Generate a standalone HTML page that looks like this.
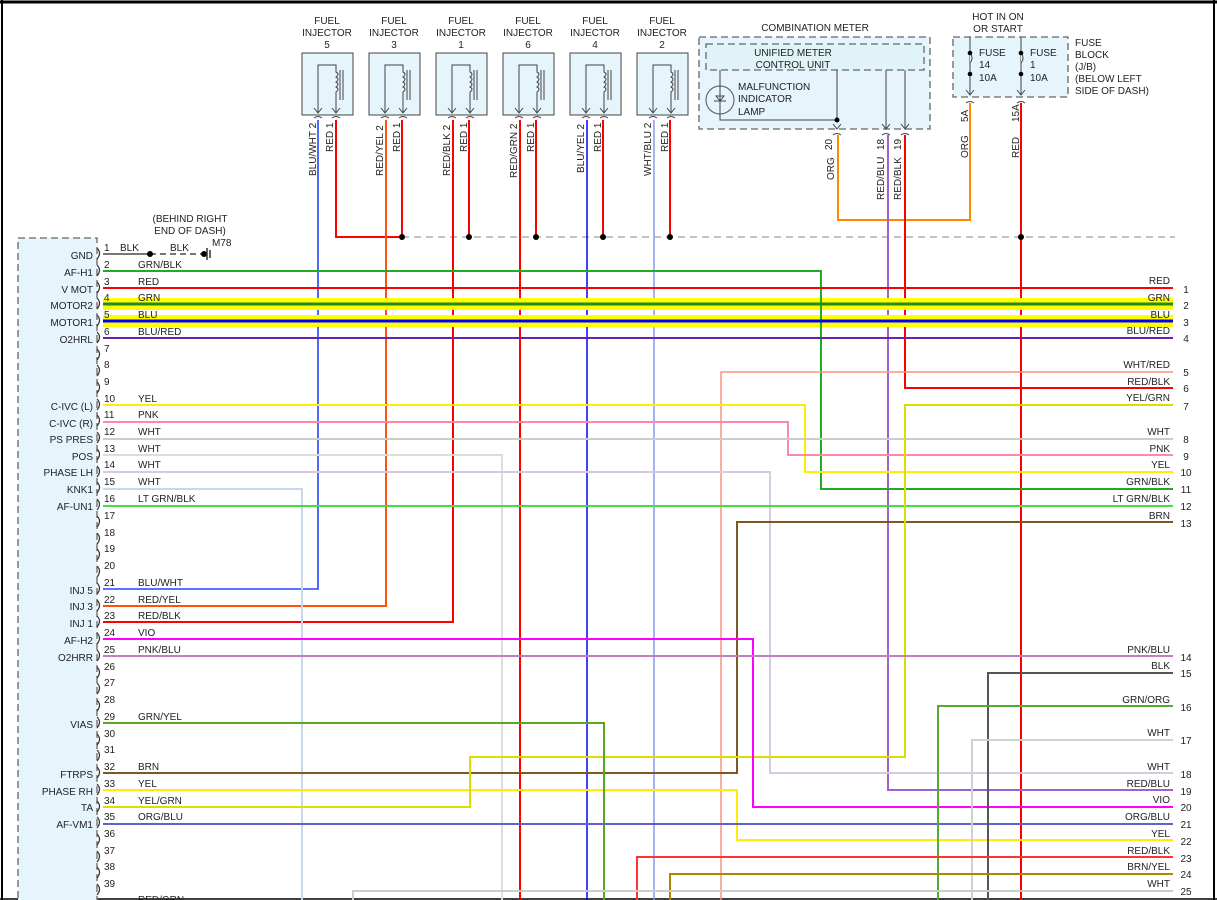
<!DOCTYPE html>
<html><head><meta charset="utf-8"><style>
html,body{margin:0;padding:0;background:#fff}
svg{display:block}
text{font-family:"Liberation Sans",Arial,sans-serif;font-size:10px;fill:#222}
.r{text-anchor:end}.m{text-anchor:middle}
.dash{fill:#e6f4fb;stroke:#666;stroke-dasharray:7 4;stroke-width:1.3}
</style></head><body>
<svg width="1217" height="900" viewBox="0 0 1217 900" xmlns="http://www.w3.org/2000/svg">
<rect width="1217" height="900" fill="#fff"/>
<line x1="0" y1="2" x2="1217" y2="2" stroke="#000" stroke-width="3"/>
<line x1="2" y1="0" x2="2" y2="900" stroke="#000" stroke-width="2"/>
<line x1="1214" y1="0" x2="1214" y2="900" stroke="#000" stroke-width="2"/>
<line x1="0" y1="899" x2="1217" y2="899" stroke="#000" stroke-width="1.5"/>

<rect x="18" y="238" width="79" height="680" class="dash"/>

<g fill="none" stroke="#444" stroke-width="1">
<rect x="302" y="53" width="51" height="62" fill="#e6f4fb"/>
<rect x="369" y="53" width="51" height="62" fill="#e6f4fb"/>
<rect x="436" y="53" width="51" height="62" fill="#e6f4fb"/>
<rect x="503" y="53" width="51" height="62" fill="#e6f4fb"/>
<rect x="570" y="53" width="51" height="62" fill="#e6f4fb"/>
<rect x="637" y="53" width="51" height="62" fill="#e6f4fb"/>
</g>
<g fill="none" stroke="#444" stroke-width="1">
<path id="inj" d="M318 113 V65 H336 V72 q4 2 0 5 q4 2 0 5 q4 2 0 5 q4 2 0 5 V113 M340 70 V100 M343 70 V100 M314 108 l4 5 l4 -5 M332 108 l4 5 l4 -5 M314 118 q4 -3 8 0 M332 118 q4 -3 8 0"/>
<use href="#inj" x="67"/><use href="#inj" x="134"/><use href="#inj" x="201"/><use href="#inj" x="268"/><use href="#inj" x="335"/>
</g>
<g class="m">
<text x="327" y="24" class="m">FUEL</text><text x="327" y="36" class="m">INJECTOR</text><text x="327" y="48" class="m">5</text>
<text x="394" y="24" class="m">FUEL</text><text x="394" y="36" class="m">INJECTOR</text><text x="394" y="48" class="m">3</text>
<text x="461" y="24" class="m">FUEL</text><text x="461" y="36" class="m">INJECTOR</text><text x="461" y="48" class="m">1</text>
<text x="528" y="24" class="m">FUEL</text><text x="528" y="36" class="m">INJECTOR</text><text x="528" y="48" class="m">6</text>
<text x="595" y="24" class="m">FUEL</text><text x="595" y="36" class="m">INJECTOR</text><text x="595" y="48" class="m">4</text>
<text x="662" y="24" class="m">FUEL</text><text x="662" y="36" class="m">INJECTOR</text><text x="662" y="48" class="m">2</text>
</g>
<g>
<text transform="translate(316,176) rotate(-90)">BLU/WHT 2</text><text transform="translate(333,152) rotate(-90)">RED 1</text>
<text transform="translate(383,176) rotate(-90)">RED/YEL 2</text><text transform="translate(400,152) rotate(-90)">RED 1</text>
<text transform="translate(450,176) rotate(-90)">RED/BLK 2</text><text transform="translate(467,152) rotate(-90)">RED 1</text>
<text transform="translate(517,178) rotate(-90)">RED/GRN 2</text><text transform="translate(534,152) rotate(-90)">RED 1</text>
<text transform="translate(584,173) rotate(-90)">BLU/YEL 2</text><text transform="translate(601,152) rotate(-90)">RED 1</text>
<text transform="translate(651,176) rotate(-90)">WHT/BLU 2</text><text transform="translate(668,152) rotate(-90)">RED 1</text>
</g>

<text x="815" y="31" class="m">COMBINATION METER</text>
<rect x="699" y="37" width="231" height="92" class="dash"/>
<rect x="706" y="44" width="218" height="26" fill="#e0f4f8" stroke="#666" stroke-dasharray="7 4" stroke-width="1.3"/>
<text x="793" y="56" class="m">UNIFIED METER</text><text x="793" y="68" class="m">CONTROL UNIT</text>
<text x="738" y="90">MALFUNCTION</text><text x="738" y="102">INDICATOR</text><text x="738" y="115">LAMP</text>
<circle cx="720" cy="100" r="14" fill="none" stroke="#555"/>
<path d="M720 70 V120 H837 V70 M886 70 V128 M905 70 V128 M714 101 h12 M716 96 l4 5 l4-5z" fill="none" stroke="#444"/>
<circle cx="837" cy="120" r="2.5" fill="#000"/>
<path d="M833 124 l4 5 l4-5 M882 124 l4 5 l4-5 M901 124 l4 5 l4-5 M833 135 q4-3 8 0 M882 135 q4-3 8 0 M901 135 q4-3 8 0" fill="none" stroke="#444"/>
<text transform="translate(832,150) rotate(-90)">20</text>
<text transform="translate(834,180) rotate(-90)">ORG</text>
<text transform="translate(884,150) rotate(-90)">18</text>
<text transform="translate(884,200) rotate(-90)">RED/BLU</text>
<text transform="translate(901,150) rotate(-90)">19</text>
<text transform="translate(901,200) rotate(-90)">RED/BLK</text>

<text x="998" y="20" class="m">HOT IN ON</text><text x="998" y="32" class="m">OR START</text>
<rect x="953" y="37" width="115" height="60" class="dash"/>
<path d="M970 37 V95 M1021 37 V95 M966 90 l4 5 l4-5 M1017 90 l4 5 l4-5 M966 103 q4-3 8 0 M1017 103 q4-3 8 0" fill="none" stroke="#444"/>
<path d="M970 53 q4 5 0 10 M1021 53 q4 5 0 10" fill="#e6f4fb" stroke="#444"/>
<circle cx="970" cy="53" r="2.3" fill="#000"/><circle cx="970" cy="74" r="2.3" fill="#000"/>
<circle cx="1021" cy="53" r="2.3" fill="#000"/><circle cx="1021" cy="74" r="2.3" fill="#000"/>
<text x="979" y="56">FUSE</text><text x="979" y="68">14</text><text x="979" y="81">10A</text>
<text x="1030" y="56">FUSE</text><text x="1030" y="68">1</text><text x="1030" y="81">10A</text>
<text x="1075" y="46">FUSE</text><text x="1075" y="58">BLOCK</text><text x="1075" y="70">(J/B)</text><text x="1075" y="82">(BELOW LEFT</text><text x="1075" y="94">SIDE OF DASH)</text>
<text transform="translate(968,122) rotate(-90)">5A</text>
<text transform="translate(968,158) rotate(-90)">ORG</text>
<text transform="translate(1019,122) rotate(-90)">15A</text>
<text transform="translate(1019,158) rotate(-90)">RED</text>

<text x="190" y="222" class="m">(BEHIND RIGHT</text><text x="190" y="234" class="m">END OF DASH)</text>
<text x="212" y="246">M78</text>

<line x1="402" y1="237" x2="1175" y2="237" stroke="#888" stroke-dasharray="7 5"/>

<g fill="none" stroke-width="2">
<path d="M336 120 V237 H402" stroke="#f00"/>
<path d="M402 120 V237 M469 120 V237 M536 120 V237 M603 120 V237 M670 120 V237" stroke="#f00"/>
<path d="M1021 103 V900" stroke="#f00"/>
<path d="M838 135 V220 H970 V103" stroke="#ff8800"/>
<path d="M103 589 H318 V120" stroke="#2244ff" stroke-width="1.6"/>
<path d="M103 606 H386 V120" stroke="#ff5010"/>
<path d="M103 622 H453 V120" stroke="#f00"/>
<path d="M520 120 V900" stroke="#f00"/>
<path d="M587 120 V900" stroke="#0000ff" stroke-width="1.5"/>
<path d="M654 120 V900" stroke="#8899ee" stroke-width="1.5"/>
<path d="M888 135 V790 H1173" stroke="#a060d0"/>
<path d="M905 135 V388 H1173" stroke="#f00"/>

<path d="M103 254 H150" stroke="#777"/>
<path d="M150 254 H203" stroke="#777" stroke-dasharray="6 4"/>
<rect x="103" y="298" width="1070" height="12" fill="#ffff00" stroke="none"/>
<rect x="103" y="315" width="1070" height="12" fill="#ffff00" stroke="none"/>
<path d="M103 271 H821 V489 H1173" stroke="#22aa22"/>
<path d="M103 288 H1173" stroke="#f00"/>
<path d="M103 304 H1173" stroke="#228822" stroke-width="3"/>
<path d="M103 321 H1173" stroke="#0000ff" stroke-width="3"/>
<path d="M103 338 H1173" stroke="#6a20b0"/>
<path d="M721 900 V372 H1173" stroke="#ff9080" stroke-width="1.5"/>
<path d="M103 405 H805 V472 H1173" stroke="#ffee00"/>
<path d="M103 422 H788 V455 H1173" stroke="#ff88aa"/>
<path d="M103 439 H1173" stroke="#cccccc"/>
<path d="M103 455 H502 V900" stroke="#dddddd"/>
<path d="M103 472 H770 V773 H1173" stroke="#d8c8e0"/>
<path d="M103 489 H302 V900" stroke="#c8d8e8"/>
<path d="M103 506 H1173" stroke="#44dd44"/>
<path d="M103 773 H737 V522 H1173" stroke="#7a5a20"/>
<path d="M103 790 H737 V840 H1173" stroke="#ffee00"/>
<path d="M103 807 H470 V757 H905 V405 H1173" stroke="#dddd00"/>
<path d="M103 639 H753 V807 H1173" stroke="#ff00ff"/>
<path d="M103 656 H1173" stroke="#c080c0"/>
<path d="M103 723 H604 V900" stroke="#55aa22"/>
<path d="M103 824 H1173" stroke="#6060d0"/>
<path d="M988 900 V673 H1173" stroke="#555"/>
<path d="M938 900 V706 H1173" stroke="#55aa33"/>
<path d="M972 900 V740 H1173" stroke="#d0d0d0"/>
<path d="M637 900 V857 H1173" stroke="#f33"/>
<path d="M670 900 V874 H1173" stroke="#aa8800"/>
<path d="M353 900 V891 H1173" stroke="#cccccc"/>
</g>
<g fill="#000">
<circle cx="150" cy="254" r="3"/><circle cx="204" cy="254" r="3"/>
<circle cx="402" cy="237" r="3"/><circle cx="469" cy="237" r="3"/><circle cx="536" cy="237" r="3"/><circle cx="603" cy="237" r="3"/><circle cx="670" cy="237" r="3"/><circle cx="1021" cy="237" r="3"/>
</g>
<path d="M207 248 V260 M210 250 V258" stroke="#333" stroke-width="1.5"/>

<g>
<text x="93" y="259" class="r">GND</text><text x="93" y="276" class="r">AF-H1</text><text x="93" y="293" class="r">V MOT</text>
<text x="93" y="309" class="r">MOTOR2</text><text x="93" y="326" class="r">MOTOR1</text><text x="93" y="343" class="r">O2HRL</text>
<text x="93" y="410" class="r">C-IVC (L)</text><text x="93" y="427" class="r">C-IVC (R)</text><text x="93" y="443" class="r">PS PRES</text>
<text x="93" y="460" class="r">POS</text><text x="93" y="476" class="r">PHASE LH</text><text x="93" y="493" class="r">KNK1</text>
<text x="93" y="510" class="r">AF-UN1</text><text x="93" y="594" class="r">INJ 5</text><text x="93" y="610" class="r">INJ 3</text>
<text x="93" y="627" class="r">INJ 1</text><text x="93" y="644" class="r">AF-H2</text><text x="93" y="661" class="r">O2HRR</text>
<text x="93" y="728" class="r">VIAS</text><text x="93" y="778" class="r">FTRPS</text><text x="93" y="795" class="r">PHASE RH</text>
<text x="93" y="811" class="r">TA</text><text x="93" y="828" class="r">AF-VM1</text>
</g>
<g font-size="9">
<text x="104" y="251">1</text><text x="104" y="268">2</text><text x="104" y="285">3</text><text x="104" y="301">4</text><text x="104" y="318">5</text><text x="104" y="335">6</text><text x="104" y="352">7</text><text x="104" y="368">8</text><text x="104" y="385">9</text><text x="104" y="402">10</text><text x="104" y="418">11</text><text x="104" y="435">12</text><text x="104" y="452">13</text><text x="104" y="468">14</text><text x="104" y="485">15</text><text x="104" y="502">16</text><text x="104" y="519">17</text><text x="104" y="536">18</text><text x="104" y="552">19</text><text x="104" y="569">20</text><text x="104" y="586">21</text><text x="104" y="603">22</text><text x="104" y="619">23</text><text x="104" y="636">24</text><text x="104" y="653">25</text><text x="104" y="670">26</text><text x="104" y="686">27</text><text x="104" y="703">28</text><text x="104" y="720">29</text><text x="104" y="737">30</text><text x="104" y="753">31</text><text x="104" y="770">32</text><text x="104" y="787">33</text><text x="104" y="804">34</text><text x="104" y="820">35</text><text x="104" y="837">36</text><text x="104" y="854">37</text><text x="104" y="870">38</text><text x="104" y="887">39</text>
</g>
<g fill="none" stroke="#333" stroke-width="1.2">
<path d="M97 248 q5 5 0 11 M97 265 q5 5 0 11 M97 282 q5 5 0 11 M97 298 q5 5 0 11 M97 315 q5 5 0 11 M97 332 q5 5 0 11 M97 349 q5 5 0 11 M97 365 q5 5 0 11 M97 382 q5 5 0 11 M97 399 q5 5 0 11 M97 415 q5 5 0 11 M97 432 q5 5 0 11 M97 449 q5 5 0 11 M97 466 q5 5 0 11 M97 482 q5 5 0 11 M97 499 q5 5 0 11 M97 516 q5 5 0 11 M97 533 q5 5 0 11 M97 549 q5 5 0 11 M97 566 q5 5 0 11 M97 583 q5 5 0 11 M97 600 q5 5 0 11 M97 616 q5 5 0 11 M97 633 q5 5 0 11 M97 650 q5 5 0 11 M97 667 q5 5 0 11 M97 683 q5 5 0 11 M97 700 q5 5 0 11 M97 717 q5 5 0 11 M97 734 q5 5 0 11 M97 750 q5 5 0 11 M97 767 q5 5 0 11 M97 784 q5 5 0 11 M97 801 q5 5 0 11 M97 817 q5 5 0 11 M97 834 q5 5 0 11 M97 851 q5 5 0 11 M97 867 q5 5 0 11 M97 884 q5 5 0 11"/>
</g>
<g>
<text x="120" y="251">BLK</text><text x="170" y="251">BLK</text>
<text x="138" y="268">GRN/BLK</text><text x="138" y="285">RED</text><text x="138" y="301">GRN</text><text x="138" y="318">BLU</text><text x="138" y="335">BLU/RED</text>
<text x="138" y="402">YEL</text><text x="138" y="418">PNK</text><text x="138" y="435">WHT</text><text x="138" y="452">WHT</text><text x="138" y="468">WHT</text><text x="138" y="485">WHT</text><text x="138" y="502">LT GRN/BLK</text>
<text x="138" y="586">BLU/WHT</text><text x="138" y="603">RED/YEL</text><text x="138" y="619">RED/BLK</text><text x="138" y="636">VIO</text><text x="138" y="653">PNK/BLU</text>
<text x="138" y="720">GRN/YEL</text><text x="138" y="770">BRN</text><text x="138" y="787">YEL</text><text x="138" y="804">YEL/GRN</text><text x="138" y="820">ORG/BLU</text><text x="138" y="903">RED/GRN</text>
</g>

<g>
<text x="1170" y="284" class="r">RED</text><text x="1170" y="301" class="r">GRN</text><text x="1170" y="318" class="r">BLU</text><text x="1170" y="334" class="r">BLU/RED</text>
<text x="1170" y="368" class="r">WHT/RED</text><text x="1170" y="385" class="r">RED/BLK</text><text x="1170" y="401" class="r">YEL/GRN</text>
<text x="1170" y="435" class="r">WHT</text><text x="1170" y="452" class="r">PNK</text><text x="1170" y="468" class="r">YEL</text><text x="1170" y="485" class="r">GRN/BLK</text><text x="1170" y="502" class="r">LT GRN/BLK</text><text x="1170" y="519" class="r">BRN</text>
<text x="1170" y="653" class="r">PNK/BLU</text><text x="1170" y="669" class="r">BLK</text><text x="1170" y="703" class="r">GRN/ORG</text><text x="1170" y="736" class="r">WHT</text>
<text x="1170" y="770" class="r">WHT</text><text x="1170" y="787" class="r">RED/BLU</text><text x="1170" y="803" class="r">VIO</text><text x="1170" y="820" class="r">ORG/BLU</text><text x="1170" y="837" class="r">YEL</text><text x="1170" y="854" class="r">RED/BLK</text><text x="1170" y="870" class="r">BRN/YEL</text><text x="1170" y="887" class="r">WHT</text>
</g>
<g font-size="9">
<text x="1186" y="293" class="m">1</text><text x="1186" y="309" class="m">2</text><text x="1186" y="326" class="m">3</text><text x="1186" y="342" class="m">4</text>
<text x="1186" y="376" class="m">5</text><text x="1186" y="392" class="m">6</text><text x="1186" y="410" class="m">7</text><text x="1186" y="443" class="m">8</text><text x="1186" y="460" class="m">9</text><text x="1186" y="476" class="m">10</text><text x="1186" y="493" class="m">11</text><text x="1186" y="510" class="m">12</text><text x="1186" y="527" class="m">13</text>
<text x="1186" y="661" class="m">14</text><text x="1186" y="677" class="m">15</text><text x="1186" y="711" class="m">16</text><text x="1186" y="744" class="m">17</text><text x="1186" y="778" class="m">18</text><text x="1186" y="795" class="m">19</text><text x="1186" y="811" class="m">20</text><text x="1186" y="828" class="m">21</text><text x="1186" y="845" class="m">22</text><text x="1186" y="862" class="m">23</text><text x="1186" y="878" class="m">24</text><text x="1186" y="895" class="m">25</text>
</g>
</svg>
</body></html>
